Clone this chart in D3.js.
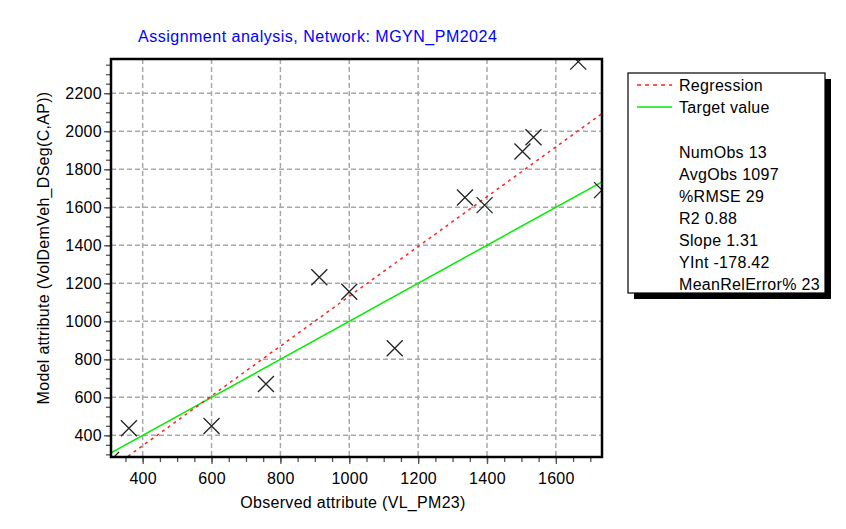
<!DOCTYPE html>
<html>
<head>
<meta charset="utf-8">
<script src="https://cdn.jsdelivr.net/npm/d3@7"></script>
<style>
  body { margin: 0; background: #fff; }
  text { font-family: Arial, "Liberation Sans", sans-serif; font-size: 16px; fill: #000; letter-spacing: 0.3px; }
</style>
</head>
<body>
<div class="chart"></div>
<script>
// observed vs model values
const observed = [308, 360, 600, 758, 913, 1000, 1132, 1336, 1393, 1503, 1535, 1665, 1734];
const modelled = [270, 437, 449, 670, 1232, 1155, 858, 1651, 1611, 1893, 1968, 2366, 1690];

const xTicks = [400, 600, 800, 1000, 1200, 1400, 1600];
const yTicks = [400, 600, 800, 1000, 1200, 1400, 1600, 1800, 2000, 2200];

const statNames = ['NumObs', 'AvgObs', '%RMSE', 'R2', 'Slope', 'YInt', 'MeanRelError%'];
const statValues = ['13', '1097', '29', '0.88', '1.31', '-178.42', '23'];

const slope = 1.31, yInt = -178.42;

const W = 846, H = 529;
const plot = { left: 111, right: 602, top: 59, bottom: 457 };

const svg = d3.select('.chart').append('svg')
  .attr('width', W)
  .attr('height', H);

const x = d3.scaleLinear().domain([308, 1734]).range([plot.left, plot.right]);
const y = d3.scaleLinear().domain([286, 2380]).range([plot.bottom, plot.top]);

// title
svg.append('text')
  .attr('x', 138)
  .attr('y', 42)
  .style('fill', '#0000ff')
  .style('letter-spacing', '0.5px')
  .text('Assignment analysis, Network: MGYN_PM2024');

svg.append('clipPath').attr('id', 'clip')
  .append('rect')
  .attr('x', plot.left).attr('y', plot.top)
  .attr('width', plot.right - plot.left)
  .attr('height', plot.bottom - plot.top);

// grid
const grid = svg.append('g')
  .attr('stroke', '#a8a8a8')
  .attr('stroke-width', 1.5)
  .attr('stroke-dasharray', '5,3');

grid.selectAll('.vg').data(xTicks).enter().append('line')
  .attr('x1', d => x(d)).attr('x2', d => x(d))
  .attr('y1', plot.top).attr('y2', plot.bottom);

grid.selectAll('.hg').data(yTicks).enter().append('line')
  .attr('y1', d => y(d)).attr('y2', d => y(d))
  .attr('x1', plot.left).attr('x2', plot.right);

// axes: minor ticks every 50, major every 200
const xAxisMinor = d3.axisBottom(x).tickValues(d3.range(350, 1734, 50)).tickSize(5).tickFormat('');
const yAxisMinor = d3.axisLeft(y).tickValues(d3.range(300, 2380, 50)).tickSize(5).tickFormat('');
const xAxis = d3.axisBottom(x).tickValues(xTicks).tickSize(7).tickPadding(9).tickFormat(d3.format('d'));
const yAxis = d3.axisLeft(y).tickValues(yTicks).tickSize(7).tickPadding(2).tickFormat(d3.format('d'));

[xAxisMinor, xAxis].forEach(a => {
  svg.append('g')
    .attr('class', 'x axis')
    .attr('transform', `translate(0,${plot.bottom})`)
    .call(a);
});
[yAxisMinor, yAxis].forEach(a => {
  svg.append('g')
    .attr('class', 'y axis')
    .attr('transform', `translate(${plot.left},0)`)
    .call(a);
});
svg.selectAll('.axis .domain').remove();
svg.selectAll('.axis line').attr('stroke', '#555').attr('stroke-width', 1.3);
svg.selectAll('.axis text').style('font-size', '16px').style('font-family', 'Arial, "Liberation Sans", sans-serif');

// lines
const inner = svg.append('g').attr('clip-path', 'url(#clip)');
const xd = x.domain();

inner.append('line')
  .attr('x1', x(xd[0])).attr('y1', y(xd[0]))
  .attr('x2', x(xd[1])).attr('y2', y(xd[1]))
  .attr('stroke', '#00ee00')
  .attr('stroke-width', 1.5);

inner.append('line')
  .attr('x1', x(xd[0])).attr('y1', y(slope * xd[0] + yInt))
  .attr('x2', x(xd[1])).attr('y2', y(slope * xd[1] + yInt))
  .attr('stroke', '#ff2020')
  .attr('stroke-width', 1.5)
  .attr('stroke-dasharray', '3,4');

// X markers
const s = 8;
inner.selectAll('.pt').data(observed).enter().append('path')
  .attr('class', 'pt')
  .attr('d', (d, i) => {
    const cx = x(d), cy = y(modelled[i]);
    return `M${cx - s},${cy - s}L${cx + s},${cy + s}M${cx - s},${cy + s}L${cx + s},${cy - s}`;
  })
  .attr('stroke', '#222')
  .attr('stroke-width', 1.3)
  .attr('fill', 'none');

// frame
svg.append('rect')
  .attr('x', plot.left).attr('y', plot.top)
  .attr('width', plot.right - plot.left)
  .attr('height', plot.bottom - plot.top)
  .attr('fill', 'none')
  .attr('stroke', '#000')
  .attr('stroke-width', 2.5);

// axis titles
svg.append('text')
  .attr('x', 353)
  .attr('y', 508)
  .attr('text-anchor', 'middle')
  .text('Observed attribute (VL_PM23)');

svg.append('text')
  .attr('transform', 'translate(49,248) rotate(-90)')
  .attr('text-anchor', 'middle')
  .text('Model attribute (VolDemVeh_DSeg(C,AP))');

// legend box
const lg = { x: 628, y: 73, w: 197, h: 220 };
svg.append('rect')
  .attr('x', lg.x + 6).attr('y', lg.y + 6)
  .attr('width', lg.w).attr('height', lg.h)
  .attr('fill', '#000');
svg.append('rect')
  .attr('x', lg.x).attr('y', lg.y)
  .attr('width', lg.w).attr('height', lg.h)
  .attr('fill', '#fff')
  .attr('stroke', '#000')
  .attr('stroke-width', 1.2);

svg.append('line')
  .attr('x1', 637).attr('x2', 672).attr('y1', 85).attr('y2', 85)
  .attr('stroke', '#ff2020').attr('stroke-width', 1.5).attr('stroke-dasharray', '4,4');
svg.append('line')
  .attr('x1', 637).attr('x2', 672).attr('y1', 107).attr('y2', 107)
  .attr('stroke', '#00ee00').attr('stroke-width', 1.5);

svg.append('text').attr('x', 679).attr('y', 91).text('Regression');
svg.append('text').attr('x', 679).attr('y', 113).text('Target value');

svg.selectAll('.stat').data(statNames).enter().append('text')
  .attr('class', 'stat')
  .attr('x', 679)
  .attr('y', (d, i) => 158 + i * 22.05)
  .text((d, i) => d + ' ' + statValues[i]);
</script>
</body>
</html>
